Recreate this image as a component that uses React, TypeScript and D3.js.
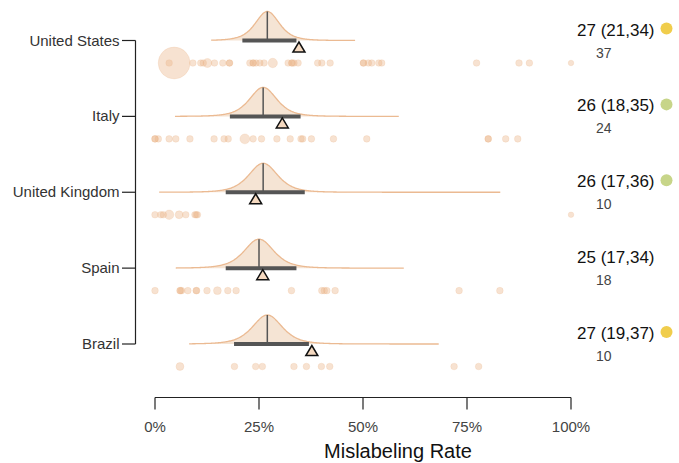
import React from "react";
import * as d3 from "d3";

// Countries, top to bottom
const COUNTRIES = ["United States", "Italy", "United Kingdom", "Spain", "Brazil"];
// Pooled mislabeling rate (%) with its interval
const MEDIAN = [27, 26, 26, 25, 27];
const LOWER = [21, 18, 17, 17, 19];
const UPPER = [34, 35, 36, 34, 37];
// Number of studies per country
const STUDIES = [37, 24, 10, 18, 10];
// Observed (raw) rate per country, shown as a triangle
const OBSERVED = [34.6, 30.6, 24.2, 25.9, 37.7];
// Posterior scale (percentage points) and plotted support of the density
const SPREAD = [3.0, 3.4, 3.6, 3.7, 3.7];
const SUPPORT_MIN = [13.5, 4.8, 1.0, 5.0, 8.2];
const SUPPORT_MAX = [48.2, 58.7, 83.1, 59.9, 68.3];
// Evidence quality marker (null = none)
const QUALITY: (string | null)[] = ["#f0cd4c", "#c7d589", "#c7d589", null, "#f0cd4c"];

// Individual studies: [mislabeling rate %, sample size]
const US_STUDIES: [number, number][] = [
  [3.4, 10], [4.6, 230], [9.1, 10], [11.0, 10], [11.6, 10], [12.6, 18], [14.3, 10],
  [16.3, 10], [17.9, 10], [17.9, 10], [22.8, 10], [23.6, 10], [23.6, 10], [24.3, 10],
  [25.2, 10], [26.2, 10], [28.3, 20], [32.0, 10], [32.9, 10], [32.9, 10], [33.4, 10],
  [34.4, 10], [39.1, 10], [40.1, 10], [42.1, 10], [50.1, 10], [50.1, 10], [51.3, 10],
  [52.1, 10], [53.8, 10], [54.5, 10], [77.3, 10], [87.5, 10], [90.0, 10], [100, 7],
];
const ITALY_STUDIES: [number, number][] = [
  [0, 10], [0, 10], [0.8, 10], [3.4, 10], [5.0, 10], [8.4, 10], [14.2, 10], [16.6, 10],
  [17.6, 10], [21.6, 22], [23.6, 10], [25.6, 10], [29.3, 10], [32.5, 10], [35.1, 10],
  [35.5, 10], [37.6, 10], [42.9, 10], [50.9, 10], [80.1, 10], [80.1, 10], [84.3, 10],
  [87.2, 10],
];
const UK_STUDIES: [number, number][] = [
  [0, 10], [1.4, 10], [2.0, 10], [3.4, 20], [5.8, 14], [7.4, 10], [9.6, 10], [9.9, 10],
  [10.2, 10], [100, 7],
];
const SPAIN_STUDIES: [number, number][] = [
  [0, 10], [6.0, 10], [6.1, 10], [6.4, 10], [7.9, 10], [9.9, 10], [10.0, 10], [12.5, 10],
  [15.0, 14], [17.5, 10], [19.5, 10], [32.8, 10], [40.1, 10], [40.7, 10], [41.3, 10],
  [43.3, 10], [73.1, 10], [82.9, 10],
];
const BRAZIL_STUDIES: [number, number][] = [
  [6.0, 14], [19.1, 10], [24.2, 10], [25.8, 10], [33.4, 10], [36.4, 10], [40.0, 10],
  [42.0, 10], [71.9, 10], [77.8, 10],
];
const STUDY_POINTS = [US_STUDIES, ITALY_STUDIES, UK_STUDIES, SPAIN_STUDIES, BRAZIL_STUDIES];

const X_TICKS = [0, 25, 50, 75, 100];

const W = 679;
const H = 463;
const FONT = "'Liberation Sans', Arial, Helvetica, sans-serif";

const x = d3.scaleLinear().domain([0, 100]).range([155, 571]);
const y = d3.scalePoint<string>().domain(COUNTRIES).range([40.5, 344]);
const r = d3.scaleSqrt().domain([0, 250]).range([0, 16.6]);

const PEAK = 29; // density peak height, px
const NU = 4; // tail weight of the density

function density(v: number, m: number, s: number) {
  const z = (v - m) / s;
  return Math.pow(1 + (z * z) / NU, -(NU + 1) / 2);
}

export default function App() {
  const axisY = 397.5;
  return (
    <svg
      width={W}
      height={H}
      style={{ position: "absolute", left: 0, top: 0, background: "#fff" }}
      fontFamily={FONT}
    >
      {/* Country axis */}
      <line x1={135.5} x2={135.5} y1={y(COUNTRIES[0])!} y2={y(COUNTRIES[4])!} stroke="#222" strokeWidth={1.2} />
      {COUNTRIES.map((c) => (
        <g key={c} transform={`translate(0,${y(c)})`}>
          <line x1={122} x2={135.5} stroke="#222" strokeWidth={1.2} />
          <text x={119.5} dy="0.34em" textAnchor="end" fontSize={15} fill="#333">
            {c}
          </text>
        </g>
      ))}

      {COUNTRIES.map((c, i) => {
        const y0 = y(c)!;
        const m = MEDIAN[i];
        const s = SPREAD[i];
        const vals = d3.range(SUPPORT_MIN[i], SUPPORT_MAX[i] + 0.001, 0.2);
        const area = d3
          .area<number>()
          .x((v) => x(v))
          .y0(y0)
          .y1((v) => y0 - PEAK * density(v, m, s))
          .curve(d3.curveMonotoneX);
        const line = d3
          .line<number>()
          .x((v) => x(v))
          .y((v) => y0 - PEAK * density(v, m, s))
          .curve(d3.curveMonotoneX);
        const ox = x(OBSERVED[i]);
        const dotsY = y0 + 22.5;
        return (
          <g key={c}>
            <path d={area(vals)!} fill="#f5e4d4" />
            <path d={line(vals)!} fill="none" stroke="#ebba92" strokeWidth={1.3} />
            <line x1={x(m)} x2={x(m)} y1={y0} y2={y0 - PEAK} stroke="#555" strokeWidth={1.5} />
            <line x1={x(LOWER[i])} x2={x(UPPER[i])} y1={y0} y2={y0} stroke="#555" strokeWidth={4} />
            <path
              d={`M${ox},${y0 + 1.5} L${ox + 6},${y0 + 11.5} L${ox - 6},${y0 + 11.5} Z`}
              fill="#f5d9c0"
              stroke="#111"
              strokeWidth={1.5}
              strokeLinejoin="miter"
            />
            {STUDY_POINTS[i].map(([rate, n], k) => (
              <circle
                key={k}
                cx={x(rate)}
                cy={dotsY}
                r={r(n)}
                fill="#e9b387"
                fillOpacity={0.38}
                stroke="#e9b387"
                strokeOpacity={0.25}
                strokeWidth={0.8}
              />
            ))}
            <text x={577} y={y0 - 5} fontSize={17} fill="#111">
              {`${MEDIAN[i]} (${LOWER[i]},${UPPER[i]})`}
            </text>
            <text x={596} y={y0 + 17} fontSize={14} fill="#444">
              {STUDIES[i]}
            </text>
            {QUALITY[i] && <circle cx={666.5} cy={y0 - 12} r={6} fill={QUALITY[i]!} />}
          </g>
        );
      })}

      {/* Rate axis */}
      <line x1={x(0)} x2={x(100)} y1={axisY} y2={axisY} stroke="#222" strokeWidth={1.2} />
      {X_TICKS.map((t) => (
        <g key={t} transform={`translate(${x(t)},0)`}>
          <line y1={axisY} y2={axisY + 12} stroke="#222" strokeWidth={1.2} />
          <text y={432} textAnchor="middle" fontSize={15} fill="#444">
            {`${t}%`}
          </text>
        </g>
      ))}
      <text x={398} y={458} textAnchor="middle" fontSize={20} fill="#111">
        Mislabeling Rate
      </text>
    </svg>
  );
}
